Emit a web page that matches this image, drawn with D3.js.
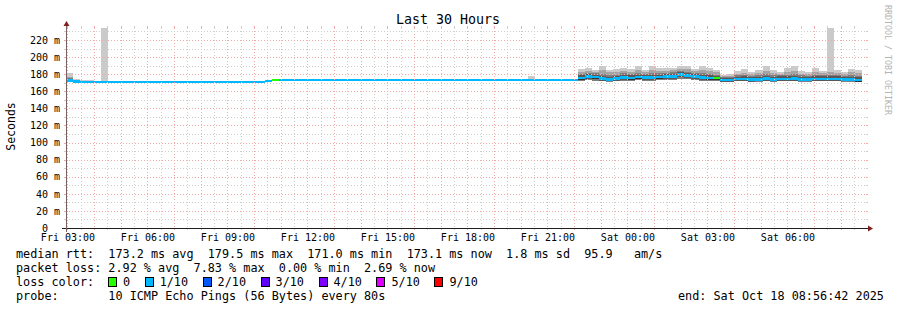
<!DOCTYPE html>
<html><head><meta charset="utf-8">
<script src="https://cdn.jsdelivr.net/npm/d3@7"></script>
<style>
html,body{margin:0;padding:0;background:#fff;}
svg{display:block;}
text{font-family:"DejaVu Sans Mono",monospace;white-space:pre;}
</style></head><body>
<svg id="c" width="897" height="310"></svg>
<script>
// ---------------- data ----------------
const title = "Last 30 Hours";
const yAxisLabel = "Seconds";
const watermark = "RRDTOOL / TOBI OETIKER";
const yMax = 234;                       // ms, top of plot
const yTickValues = [0,20,40,60,80,100,120,140,160,180,200,220];
const yTickLabels = ["0  ","20 m","40 m","60 m","80 m","100 m","120 m","140 m","160 m","180 m","200 m","220 m"];
const xTickLabels = ["Fri 03:00","Fri 06:00","Fri 09:00","Fri 12:00","Fri 15:00","Fri 18:00","Fri 21:00","Sat 00:00","Sat 03:00","Sat 06:00"];
const lossColors = ["#26ff00","#00b8ff","#0059ff","#5e00ff","#7e00ff","#dd00ff","#ff0000"];
const lossLabels = ["0","1/10","2/10","3/10","4/10","5/10","9/10"];
const smokeColors = ["#cacaca","#a4a4a4","#7e7e7e","#585858","#323232"];

// 16-minute bins counted from Fri 00:00; first bin shown is bin 11
const firstBin = 11;
// median rtt per bin (ms)
const median = [
172.8,171.4,171.0,171.0,171.0,171.0,171.0,171.0,171.0,171.0,
171.0,171.0,171.0,171.0,171.0,171.0,171.0,171.0,171.0,171.0,
171.0,171.0,171.0,171.0,171.0,171.0,171.0,171.0,171.9,173.2,
173.2,173.2,173.2,173.2,173.2,173.2,173.2,173.2,173.2,173.2,
173.2,173.2,173.2,173.2,173.2,173.2,173.2,173.2,173.2,173.2,
173.2,173.2,173.2,173.2,173.2,173.2,173.2,173.2,173.2,173.2,
173.2,173.2,173.2,173.2,173.2,173.2,173.2,173.2,173.2,173.2,
173.2,173.2,
175.5,177.0,176.5,175.0,174.0,175.0,176.0,175.5,176.5,176.0,
176.0,176.5,177.0,177.5,179.5,178.5,177.5,176.0,175.5,175.5,
173.0,173.0,174.5,174.5,173.5,174.0,175.0,174.0,174.5,174.5,
175.0,174.0,174.0,174.5,174.5,174.5,174.5,174.0,174.0,173.1
];
// loss colour class per bin (index into lossColors)
const lossLevel = [
1,1,1,1,1,1,1,1,1,1, 1,1,1,1,1,1,1,1,1,1, 1,1,1,1,1,1,1,1,1,0,
1,1,1,1,1,1,1,1,1,1, 1,1,1,1,1,1,1,1,1,1, 1,1,1,1,1,1,1,1,1,1,
1,1,1,1,1,1,1,1,1,1, 1,1,
1,1,1,1,1,1,1,1,1,1, 1,1,1,1,1,1,1,1,1,0,
1,1,1,1,1,1,1,1,1,1, 1,1,1,1,1,1,1,1,1,1
];
// smoke (sorted ping rtts, ms) for the bins that show spread
const smokeBin = [11,12,13,14,16,76,
 83,84,85,86,87,88,89,90,91,92,93,94,95,96,97,98,99,100,101,102,
 103,104,105,106,107,108,109,110,111,112,113,114,115,116,117,118,119,120,121,122];
const ping10 = [181.5,174.4,173.3,173.2,234.0,178.0,
 186.0,187.0,185.0,190.0,185.0,186.0,187.5,186.0,189.0,185.0,189.0,187.0,187.0,187.0,189.0,190.0,186.0,189.0,187.0,185.0,
 179.5,180.0,183.5,186.0,182.5,185.0,189.0,185.0,182.5,187.0,189.0,183.5,182.0,187.0,183.5,234.0,185.0,182.0,186.0,185.0];
const ping9 = [177.0,173.2,172.3,172.3,172.3,174.8,
 182.5,184.0,183.0,185.0,182.0,183.0,184.0,183.0,185.0,182.5,184.5,183.5,184.0,184.5,186.0,186.5,183.5,184.5,183.5,182.0,
 177.5,178.0,180.5,181.5,180.0,181.5,183.5,181.5,180.5,182.5,183.5,180.5,180.0,182.5,181.0,182.0,181.5,180.0,182.0,181.5];
const ping8 = [175.5,172.8,172.0,172.0,172.0,174.2,
 180.0,181.5,181.0,180.5,179.0,179.5,181.0,180.0,181.5,180.5,181.0,181.0,181.5,182.0,183.5,183.0,181.5,181.0,180.5,179.5,
 176.5,177.0,178.5,179.0,178.0,178.5,180.0,178.5,178.5,179.0,180.0,178.5,178.0,179.5,179.0,179.0,179.0,178.0,178.5,178.0];
const ping7 = [174.2,172.4,171.9,171.9,171.9,173.9,
 178.5,180.0,179.5,178.0,177.0,178.0,179.0,178.5,179.5,179.0,179.0,179.5,180.0,180.5,182.0,181.5,180.5,179.0,178.5,178.0,
 175.5,175.8,177.0,177.5,176.5,177.0,178.0,177.0,177.5,177.5,178.0,177.0,176.8,177.5,177.5,177.5,177.5,176.8,177.0,176.2];
const ping5 = [171.8,171.0,170.8,170.8,170.8,172.9,
 173.6,175.0,174.6,173.0,172.1,173.1,174.0,173.6,174.6,174.0,174.1,174.6,175.0,175.6,177.6,176.6,175.6,174.1,173.6,173.6,
 171.6,171.6,172.6,172.6,171.8,172.1,173.1,172.1,172.6,172.6,173.1,172.1,172.1,172.6,172.6,172.6,172.6,172.1,172.1,171.3];
const ping4 = [171.5,170.8,170.7,170.7,170.7,172.8,
 172.8,174.1,173.8,172.3,171.6,172.3,173.3,172.8,173.8,173.3,173.3,173.8,174.3,174.8,176.3,175.3,174.8,173.3,172.8,172.8,
 171.3,171.3,172.0,172.1,171.4,171.6,172.4,171.6,172.0,172.0,172.4,171.6,171.6,172.0,172.0,172.0,172.0,171.6,171.6,170.8];
const ping1 = [171.2,170.6,170.6,170.6,170.6,172.7,
 172.0,172.8,172.5,171.5,171.2,171.8,172.5,172.2,173.0,172.5,172.5,173.0,173.2,173.5,174.5,174.0,173.5,172.5,172.0,172.2,
 171.0,171.0,171.5,171.5,171.0,171.2,171.8,171.2,171.5,171.5,171.8,171.2,171.2,171.5,171.5,171.5,171.5,171.2,171.2,170.5];

const legendLines = [
  "median rtt:  173.2 ms avg  179.5 ms max  171.0 ms min  173.1 ms now  1.8 ms sd  95.9   am/s",
  "packet loss: 2.92 % avg  7.83 % max  0.00 % min  2.69 % now",
  "loss color:",
  "probe:       10 ICMP Echo Pings (56 Bytes) every 80s"
];
const endLabel = "end: Sat Oct 18 08:56:42 2025";

// ---------------- layout ----------------
const X0 = 66, X1 = 866, Y0 = 228, Y1 = 28;
const t0 = Date.UTC(2025,9,17,2,56,42), t1 = Date.UTC(2025,9,18,8,56,42);
const day0 = Date.UTC(2025,9,17), binMs = 16*60*1000;
const binT = b => day0 + b*binMs;
const x = d3.scaleUtc().domain([t0,t1]).range([X0,X1]);
const y = d3.scaleLinear().domain([0,yMax]).range([Y0,Y1]);
const svg = d3.select("#c");

svg.append("rect").attr("width",897).attr("height",310).attr("fill","#fff");
svg.append("defs").append("clipPath").attr("id","plot")
  .append("rect").attr("x",X0).attr("y",Y1).attr("width",X1-X0).attr("height",Y0-Y1);

const g = svg.append("g").attr("clip-path","url(#plot)").attr("shape-rendering","crispEdges");

// smoke
smokeBin.forEach((b,i)=>{
  const xs = x(binT(b)), xe = x(binT(b+1));
  const m = median[b-firstBin];
  const bands = [[ping1[i],ping10[i]],[ping1[i],ping9[i]],[ping1[i],ping8[i]],[ping4[i],ping7[i]],[ping5[i],m]];
  bands.forEach((bd,k)=>{
    g.append("rect").attr("x",xs).attr("width",xe-xs)
     .attr("y",y(bd[1])).attr("height",Math.max(0,y(bd[0])-y(bd[1])))
     .attr("fill",smokeColors[k]);
  });
});
// median line coloured by loss
const sw = 1.5;
median.forEach((m,j)=>{
  const b = firstBin + j;
  const xs = x(binT(b)), xe = x(binT(b+1));
  g.append("rect").attr("x",xs).attr("width",xe-xs)
   .attr("y",y(m+sw)).attr("height",y(m-sw)-y(m+sw))
   .attr("fill",lossColors[lossLevel[j]]);
});

// grid
const grid = svg.append("g").attr("shape-rendering","crispEdges");
const minorC = "#cdcdcd", majorC = "#f0aaaa";
const hourSet = new Set(d3.utcHour.range(t0,t1).map(d=>+d));
const vMinor = d3.utcMinute.every(30).range(t0,t1).filter(d=>!hourSet.has(+d));
const vMajor = d3.utcHour.range(t0,t1);
function vline(d,c){
  const xx = Math.round(x(d))+0.5;
  grid.append("line").attr("x1",xx).attr("x2",xx).attr("y1",Y1).attr("y2",Y0)
    .attr("stroke",c).attr("stroke-dasharray","1,2");
  grid.append("line").attr("x1",xx).attr("x2",xx).attr("y1",Y1-2).attr("y2",Y1).attr("stroke",c);
  grid.append("line").attr("x1",xx).attr("x2",xx).attr("y1",Y0).attr("y2",Y0+2).attr("stroke",c);
}
function hline(v,c){
  const yy = Math.round(y(v))+0.5;
  grid.append("line").attr("x1",X0).attr("x2",X1).attr("y1",yy).attr("y2",yy)
    .attr("stroke",c).attr("stroke-dasharray","1,2");
  grid.append("line").attr("x1",X0-2).attr("x2",X0).attr("y1",yy).attr("y2",yy).attr("stroke",c);
  grid.append("line").attr("x1",X1).attr("x2",X1+2).attr("y1",yy).attr("y2",yy).attr("stroke",c);
}
vMinor.forEach(d=>vline(d,minorC));
vMajor.forEach(d=>vline(d,majorC));
const hMinor = d3.range(10,yMax,20), hMajor = d3.range(20,yMax,20);
hMinor.forEach(v=>hline(v,minorC));
hMajor.forEach(v=>hline(v,majorC));

// axes labels through d3 axes
const xTickTimes = d3.utcHour.every(3).range(t0,t1);
const xa = svg.append("g").attr("transform",`translate(0,${Y0})`)
  .call(d3.axisBottom(x).tickValues(xTickTimes).tickFormat((d,i)=>xTickLabels[i]).tickSize(0).tickPadding(6));
xa.select(".domain").remove();
xa.selectAll("text").attr("font-family","DejaVu Sans Mono").attr("font-size","10px").attr("fill","#000");
const ya = svg.append("g").attr("transform",`translate(${X0},0)`)
  .call(d3.axisLeft(y).tickValues(yTickValues).tickFormat((d,i)=>yTickLabels[i]).tickSize(0).tickPadding(6));
ya.select(".domain").remove();
ya.selectAll("text").attr("font-family","DejaVu Sans Mono").attr("font-size","10px").attr("fill","#000")
  .attr("xml:space","preserve");

// axis lines and arrows
svg.append("line").attr("x1",X0-4).attr("x2",X1+4).attr("y1",Y0+0.5).attr("y2",Y0+0.5)
  .attr("stroke","#1f1f1f").attr("shape-rendering","crispEdges");
svg.append("line").attr("x1",X0+0.5).attr("x2",X0+0.5).attr("y1",Y0+4).attr("y2",Y1-4)
  .attr("stroke","#7a6060").attr("shape-rendering","crispEdges");
svg.append("polygon").attr("points",`${X1+2},${Y0-3+0.5} ${X1+2},${Y0+3+0.5} ${X1+7},${Y0+0.5}`).attr("fill","#7f1f1f");
svg.append("polygon").attr("points",`${X0-3+0.5},${Y1-2} ${X0+3+0.5},${Y1-2} ${X0+0.5},${Y1-7}`).attr("fill","#7f1f1f");

// title and side texts
svg.append("text").attr("x",448).attr("y",24).attr("text-anchor","middle")
  .attr("font-size","13.3px").attr("fill","#000").text(title);
svg.append("text").attr("transform","translate(15,126.5) rotate(-90)").attr("text-anchor","middle")
  .attr("font-size","11.5px").attr("fill","#000").text(yAxisLabel);
svg.append("text").attr("transform","translate(884.5,5) rotate(90)").attr("text-anchor","start")
  .attr("font-size","8.3px").attr("fill","#b4b4b4").text(watermark);

// legend
const lineY = [257.5,271.7,285.9,300.1];
legendLines.forEach((s,i)=>{
  svg.append("text").attr("x",16).attr("y",lineY[i]).attr("xml:space","preserve")
    .attr("font-size","11.8px").attr("fill","#000").text(s);
});
let lx = 108;
lossLabels.forEach((lab,i)=>{
  svg.append("rect").attr("x",lx+0.5).attr("y",277.5).attr("width",8).attr("height",9)
    .attr("fill",lossColors[i]).attr("stroke","#000").attr("stroke-width",1).attr("shape-rendering","crispEdges");
  svg.append("text").attr("x",lx+15).attr("y",lineY[2]).attr("font-size","11.8px").attr("fill","#000").text(lab);
  lx += 15.3 + (lab.length+2)*7.11;
});
svg.append("text").attr("x",678).attr("y",lineY[3]).attr("font-size","11.8px").attr("fill","#000").text(endLabel);
</script>
</body></html>
